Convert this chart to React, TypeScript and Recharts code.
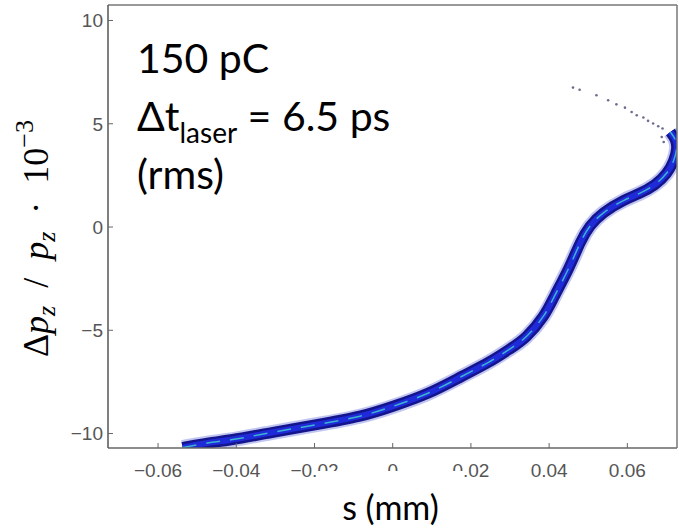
import { ComposedChart, Line, Scatter, XAxis, YAxis } from 'recharts'

// beam core (s in mm, dp/p in 1e-3)
const coreS = [
  -0.0537, -0.0519, -0.047, -0.0409, -0.0306, -0.0195, -0.0084, 0.0001, 0.009, 0.0175,
  0.0245, 0.03, 0.0342, 0.0385, 0.0415, 0.045, 0.048, 0.0505, 0.054, 0.059,
  0.063, 0.067, 0.07, 0.0718, 0.0726, 0.0722, 0.071,
]
const coreY = [
  -10.68, -10.61, -10.45, -10.29, -9.94, -9.57, -9.16, -8.68, -8.05, -7.25,
  -6.55, -5.9, -5.3, -4.33, -3.3, -2.0, -0.75, 0.05, 0.7, 1.28,
  1.62, 2.05, 2.6, 3.2, 3.8, 4.25, 4.6,
]

// sparse particles in the head
const tailS = [0.0461, 0.0478, 0.0521, 0.0551, 0.0572, 0.0594, 0.0611, 0.0624, 0.0641, 0.0653, 0.0666, 0.0679, 0.069, 0.0688, 0.0693]
const tailY = [6.75, 6.65, 6.38, 6.14, 5.94, 5.78, 5.57, 5.41, 5.3, 5.14, 5.01, 4.88, 4.77, 4.36, 4.12]

const xTicks = [-0.06, -0.04, -0.02, 0, 0.02, 0.04, 0.06]
const yTicks = [-10, -5, 0, 5, 10]
const xDomain = [-0.0728, 0.0727]
const yDomain = [-10.7, 10.75]

const core = coreS.map((s, i) => ({ s, y: coreY[i] }))
const tail = tailS.map((s, i) => ({ s, y: tailY[i] }))

const tickFont = 'Liberation Sans, Arial, sans-serif'
const fmtX = (v: number) => (v === 0 ? '0' : v.toFixed(2).replace('-', '\u2212'))
const fmtY = (v: number) => String(v).replace('-', '\u2212')
const SP = '\u2002'

// the slide's text box for "s (mm)" hides the lower half of the middle tick labels
const PATCH_L = 317
const PATCH_R = 463

// axes are mirrored so tick marks point inwards; labels are drawn back outside
function XTick({ x, y, payload }: any) {
  const l = Math.max(x - 36, PATCH_L)
  const r = Math.min(x + 36, PATCH_R)
  return (
    <g>
      <text x={x} y={y + 34} textAnchor="middle" fontSize={19} fontFamily={tickFont} fill="#555">
        {fmtX(payload.value)}
      </text>
      {r > l && <rect x={l} y={y + 28} width={r - l} height={12} fill="#fff" />}
    </g>
  )
}

function YTick({ x, y, payload }: any) {
  return (
    <text x={x - 10} y={y} dy="0.36em" textAnchor="end" fontSize={19} fontFamily={tickFont} fill="#555">
      {fmtY(payload.value)}
    </text>
  )
}

function XTitle({ viewBox }: any) {
  const { x, width } = viewBox
  const base = viewBox.y + viewBox.height
  return (
    <text x={x + width / 2 - 2} y={base + 72} textAnchor="middle" fontSize={34} fontFamily="Lato, sans-serif" fill="#000">
      s (mm)
    </text>
  )
}

function YTitle({ viewBox }: any) {
  const cx = viewBox.x - 60
  const cy = viewBox.y + viewBox.height / 2 + 12
  return (
    <text x={cx} y={cy} transform={`rotate(-90 ${cx} ${cy})`} textAnchor="middle" fontSize={36}
      fontFamily="Liberation Serif, serif" fill="#000">
      <tspan>Δ</tspan>
      <tspan fontStyle="italic">p</tspan>
      <tspan fontStyle="italic" fontSize={26} dy={7}>z</tspan>
      <tspan dy={-7}>{`${SP}/${SP}`}</tspan>
      <tspan fontStyle="italic">p</tspan>
      <tspan fontStyle="italic" fontSize={26} dy={7}>z</tspan>
      <tspan dy={-7}>{`${SP}·${SP}10`}</tspan>
      <tspan fontSize={26} dy={-15}>−3</tspan>
    </text>
  )
}

function Note({ viewBox }: any) {
  const x = viewBox.x + 29
  const y = viewBox.y
  return (
    <text fontSize={41} fontFamily="Lato, sans-serif" fill="#000">
      <tspan x={x} y={y + 68}>150 pC</tspan>
      <tspan x={x} y={y + 126}>Δt</tspan>
      <tspan fontSize={28} dy={12}>laser</tspan>
      <tspan dy={-12}> = 6.5 ps</tspan>
      <tspan x={x} y={y + 184}>(rms)</tspan>
    </text>
  )
}

const Dot = (p: any) => <circle cx={p.cx} cy={p.cy} r={1.3} fill="#2b2f5e" fillOpacity={0.7} />

export default function App() {
  return (
    <div style={{ position: 'absolute', left: 0, top: 0, width: 679, height: 528, background: '#fff' }}>
      <ComposedChart width={679} height={528} margin={{ top: 5, right: 2, bottom: 80, left: 108 }}>
        <XAxis xAxisId="b" type="number" dataKey="s" domain={xDomain} ticks={xTicks} allowDataOverflow mirror
          tick={<XTick />} tickSize={5} tickMargin={0}
          axisLine={{ stroke: '#666', strokeWidth: 1.5 }} tickLine={{ stroke: '#666' }} label={<XTitle />} />
        <XAxis xAxisId="t" orientation="top" type="number" dataKey="s" domain={xDomain} ticks={xTicks} allowDataOverflow mirror
          tick={false} tickSize={5}
          axisLine={{ stroke: '#999', strokeWidth: 2 }} tickLine={{ stroke: '#999' }} label={<Note />} />
        <YAxis yAxisId="l" type="number" domain={yDomain} ticks={yTicks} allowDataOverflow mirror
          tick={<YTick />} tickSize={5} tickMargin={0}
          axisLine={{ stroke: '#555', strokeWidth: 1.5 }} tickLine={{ stroke: '#666' }} label={<YTitle />} />
        <YAxis yAxisId="r" orientation="right" type="number" domain={yDomain} ticks={yTicks} allowDataOverflow mirror
          tick={false} tickSize={5}
          axisLine={{ stroke: '#777', strokeWidth: 1.5 }} tickLine={{ stroke: '#888' }} />

        <Line xAxisId="b" yAxisId="l" data={core} dataKey="y" type="natural" stroke="#4c5bd6" strokeOpacity={0.35}
          strokeWidth={15} dot={false} activeDot={false} isAnimationActive={false} />
        <Line xAxisId="b" yAxisId="l" data={core} dataKey="y" type="natural" stroke="#14148c"
          strokeWidth={11} dot={false} activeDot={false} isAnimationActive={false} />
        <Line xAxisId="b" yAxisId="l" data={core} dataKey="y" type="natural" stroke="#1f2ad8"
          strokeWidth={6} dot={false} activeDot={false} isAnimationActive={false} />
        <Line xAxisId="b" yAxisId="l" data={core} dataKey="y" type="natural" stroke="#43d6cf" strokeOpacity={0.8}
          strokeWidth={1.5} strokeDasharray="14 10" dot={false} activeDot={false} isAnimationActive={false} />
        <Scatter xAxisId="b" yAxisId="l" data={tail} dataKey="y" shape={Dot} isAnimationActive={false} />
      </ComposedChart>
    </div>
  )
}
